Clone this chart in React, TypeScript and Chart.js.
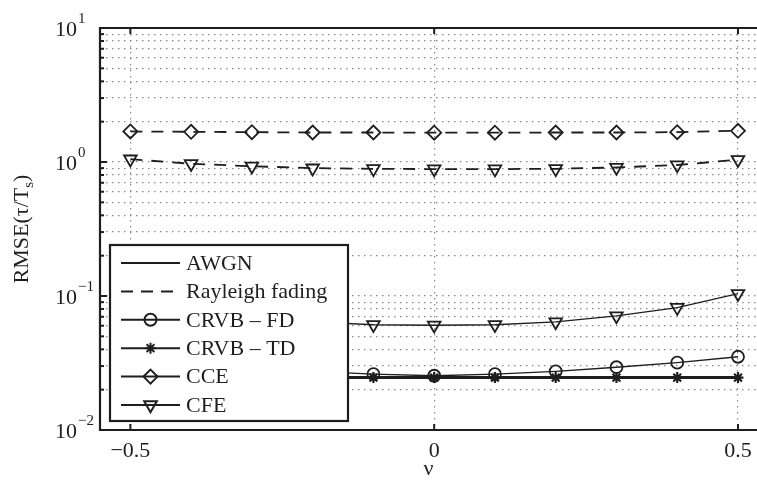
import React, { useEffect, useRef } from 'react';
import { Chart, registerables } from 'chart.js';

Chart.register(...registerables);

// ---- data ----
const nu = [-0.5, -0.4, -0.3, -0.2, -0.1, 0, 0.1, 0.2, 0.3, 0.4, 0.5];
const cceRayleigh = [1.69, 1.68, 1.67, 1.66, 1.66, 1.655, 1.655, 1.66, 1.66, 1.67, 1.71];
const cfeRayleigh = [1.05, 0.97, 0.93, 0.9, 0.89, 0.885, 0.885, 0.89, 0.91, 0.95, 1.04];
const cfeAwgn = [0.104, 0.082, 0.071, 0.064, 0.061, 0.0605, 0.061, 0.064, 0.071, 0.082, 0.104];
const crvbFd = [0.0352, 0.0318, 0.0294, 0.0274, 0.0261, 0.0254, 0.0261, 0.0274, 0.0294, 0.0318, 0.0352];
const crvbTd = [0.0246, 0.0246, 0.0246, 0.0246, 0.0246, 0.0246, 0.0246, 0.0246, 0.0246, 0.0246, 0.0246];

const xTickValues = [-0.5, 0, 0.5];
const xTickLabels = ['\u22120.5', '0', '0.5'];
const yDecades = [-2, -1, 0, 1];
const legendLabels = ['AWGN', 'Rayleigh fading', 'CRVB \u2013 FD', 'CRVB \u2013 TD', 'CCE', 'CFE'];
const yTitleMain = 'RMSE(\u03C4/T';
const yTitleSub = 's';
const xTitle = '\u03BD';

const FONT = '"Liberation Serif", "Times New Roman", serif';
const INK = '#1e1e1e';

function drawMarker(ctx: CanvasRenderingContext2D, style: string, x: number, y: number, r: number) {
  ctx.beginPath();
  if (style === 'circle') {
    ctx.arc(x, y, r, 0, Math.PI * 2);
  } else if (style === 'star') {
    ctx.moveTo(x - r, y); ctx.lineTo(x + r, y);
    ctx.moveTo(x, y - r); ctx.lineTo(x, y + r);
    const d = r * Math.SQRT1_2;
    ctx.moveTo(x - d, y - d); ctx.lineTo(x + d, y + d);
    ctx.moveTo(x - d, y + d); ctx.lineTo(x + d, y - d);
  } else if (style === 'rectRot') {
    ctx.moveTo(x, y - r); ctx.lineTo(x + r, y); ctx.lineTo(x, y + r); ctx.lineTo(x - r, y); ctx.closePath();
  } else if (style === 'triDown') {
    const s = Math.sin(Math.PI / 3) * r;
    ctx.moveTo(x, y + r); ctx.lineTo(x - s, y - r / 2); ctx.lineTo(x + s, y - r / 2); ctx.closePath();
  }
  ctx.stroke();
}

const decorPlugin = {
  id: 'decor',
  afterDraw(chart: any) {
    const ctx: CanvasRenderingContext2D = chart.ctx;
    const { left, right, top, bottom } = chart.chartArea;
    const xs = chart.scales.x;
    const ys = chart.scales.y;
    ctx.save();
    ctx.strokeStyle = INK;
    ctx.fillStyle = INK;
    // frame
    ctx.lineWidth = 2.2;
    ctx.beginPath();
    ctx.moveTo(right + 2, top); ctx.lineTo(left, top); ctx.lineTo(left, bottom); ctx.lineTo(right + 2, bottom);
    ctx.stroke();
    // inward ticks on y
    ctx.lineWidth = 2;
    ys.ticks.forEach((t: any) => {
      const py = ys.getPixelForValue(t.value);
      const lg = Math.log10(t.value);
      const major = Math.abs(lg - Math.round(lg)) < 1e-6;
      ctx.beginPath();
      ctx.moveTo(left, py); ctx.lineTo(left + (major ? 7 : 4), py);
      ctx.stroke();
    });
    // inward ticks on x (top and bottom)
    xTickValues.forEach((v) => {
      const px = xs.getPixelForValue(v);
      ctx.beginPath();
      ctx.moveTo(px, bottom); ctx.lineTo(px, bottom - 6);
      ctx.moveTo(px, top); ctx.lineTo(px, top + 6);
      ctx.stroke();
    });
    // y tick labels 10^n
    ctx.textBaseline = 'middle';
    ctx.textAlign = 'left';
    yDecades.forEach((d) => {
      const py = ys.getPixelForValue(Math.pow(10, d));
      ctx.font = `22px ${FONT}`;
      ctx.fillText('10', 55, py + 2);
      const w = ctx.measureText('10').width;
      ctx.font = `15px ${FONT}`;
      ctx.fillText(d < 0 ? '\u2212' + String(-d) : String(d), 55 + w + 1, py - 9);
    });
    // y title
    ctx.save();
    ctx.translate(28, (top + bottom) / 2);
    ctx.rotate(-Math.PI / 2);
    ctx.font = `22px ${FONT}`;
    const w1 = ctx.measureText(yTitleMain).width;
    ctx.font = `15px ${FONT}`;
    const w2 = ctx.measureText(yTitleSub).width;
    ctx.font = `22px ${FONT}`;
    const w3 = ctx.measureText(')').width;
    let sx = -(w1 + w2 + w3) / 2;
    ctx.textBaseline = 'alphabetic';
    ctx.fillText(yTitleMain, sx, 0);
    sx += w1;
    ctx.font = `15px ${FONT}`;
    ctx.fillText(yTitleSub, sx, 5);
    sx += w2;
    ctx.font = `22px ${FONT}`;
    ctx.fillText(')', sx, 0);
    ctx.restore();
    // legend
    const bx = 110, by = 245, bw = 238, bh = 176;
    ctx.fillStyle = '#ffffff';
    ctx.fillRect(bx, by, bw, bh);
    ctx.lineWidth = 2.2;
    ctx.strokeStyle = INK;
    ctx.strokeRect(bx, by, bw, bh);
    ctx.fillStyle = INK;
    ctx.font = `22px ${FONT}`;
    ctx.textBaseline = 'middle';
    const styles = ['none', 'none', 'circle', 'star', 'rectRot', 'triDown'];
    const radii = [0, 0, 6, 5.5, 7, 7.3];
    legendLabels.forEach((lab, i) => {
      const ry = 263 + i * 28.4;
      ctx.lineWidth = 2;
      ctx.setLineDash(i === 1 ? [12, 8] : []);
      ctx.beginPath();
      ctx.moveTo(121, ry); ctx.lineTo(180, ry);
      ctx.stroke();
      ctx.setLineDash([]);
      if (styles[i] !== 'none') {
        ctx.lineWidth = 2;
        drawMarker(ctx, styles[i], 150.5, ry, radii[i]);
      }
      ctx.fillText(lab, 186, ry + 1);
    });
    ctx.restore();
  },
};

export default function App() {
  const ref = useRef<HTMLCanvasElement>(null);
  useEffect(() => {
    document.body.style.margin = '0';
    const canvas = ref.current!;
    const mk = (label: string, data: number[], opts: any) => ({
      label,
      data: nu.map((x, i) => ({ x, y: data[i] })),
      borderColor: INK,
      pointBorderColor: INK,
      pointBackgroundColor: 'rgba(0,0,0,0)',
      backgroundColor: 'rgba(0,0,0,0)',
      tension: 0,
      fill: false,
      ...opts,
    });
    const chart = new Chart(canvas, {
      type: 'line',
      data: {
        datasets: [
          mk('CCE (Rayleigh fading)', cceRayleigh, { borderWidth: 1.8, borderDash: [12, 9], pointStyle: 'rectRot', pointRadius: 7, pointBorderWidth: 1.8 }),
          mk('CFE (Rayleigh fading)', cfeRayleigh, { borderWidth: 1.8, borderDash: [12, 9], pointStyle: 'triangle', pointRotation: 180, pointRadius: 7.3, pointBorderWidth: 1.8 }),
          mk('CFE (AWGN)', cfeAwgn, { borderWidth: 1.3, pointStyle: 'triangle', pointRotation: 180, pointRadius: 7.3, pointBorderWidth: 1.8 }),
          mk('CRVB \u2013 FD', crvbFd, { borderWidth: 1.3, pointStyle: 'circle', pointRadius: 6, pointBorderWidth: 1.8 }),
          mk('CRVB \u2013 TD', crvbTd, { borderWidth: 3, pointStyle: 'star', pointRadius: 5.5, pointBorderWidth: 2.2 }),
        ],
      },
      options: {
        animation: false,
        responsive: false,
        maintainAspectRatio: false,
        devicePixelRatio: 1,
        layout: { autoPadding: false, padding: { top: 28, left: 0, right: 0, bottom: 0 } },
        plugins: { legend: { display: false }, tooltip: { enabled: false } },
        scales: {
          x: {
            type: 'linear',
            min: -0.55,
            max: 0.5313,
            afterBuildTicks: (s: any) => { s.ticks = xTickValues.map((v) => ({ value: v })); },
            afterFit: (s: any) => { s.height = 54; s.paddingLeft = 0; s.paddingRight = 0; },
            ticks: {
              autoSkip: false,
              maxRotation: 0,
              padding: 8,
              color: INK,
              font: { family: FONT, size: 22 },
              callback: (v: any) => { const i = xTickValues.indexOf(Number(v)); return i >= 0 ? xTickLabels[i] : ''; },
            },
            grid: { color: '#8a8a8a', lineWidth: 1.2, drawTicks: false },
            border: { display: false, dash: [1.5, 4.5] },
            title: { display: true, text: xTitle, color: INK, font: { family: FONT, size: 22 }, padding: { top: 0, bottom: 2 } },
          },
          y: {
            type: 'logarithmic',
            min: 0.01,
            max: 10,
            afterBuildTicks: (s: any) => {
              const t: any[] = [];
              [-2, -1, 0].forEach((d) => { for (let k = 1; k <= 9; k++) t.push({ value: k * Math.pow(10, d) }); });
              t.push({ value: 10 });
              s.ticks = t;
            },
            afterFit: (s: any) => { s.width = 100; s.paddingTop = 0; s.paddingBottom = 0; },
            ticks: { display: false, autoSkip: false },
            grid: { color: '#8a8a8a', lineWidth: 1.2, drawTicks: false },
            border: { display: false, dash: [1.5, 4.5] },
          },
        },
      },
      plugins: [decorPlugin],
    } as any);
    return () => chart.destroy();
  }, []);
  return (
    <div style={{ width: 757, height: 484, background: '#fff' }}>
      <style>{'body{margin:0}'}</style>
      <canvas ref={ref} width={757} height={484} style={{ display: 'block', width: 757, height: 484 }} />
    </div>
  );
}
